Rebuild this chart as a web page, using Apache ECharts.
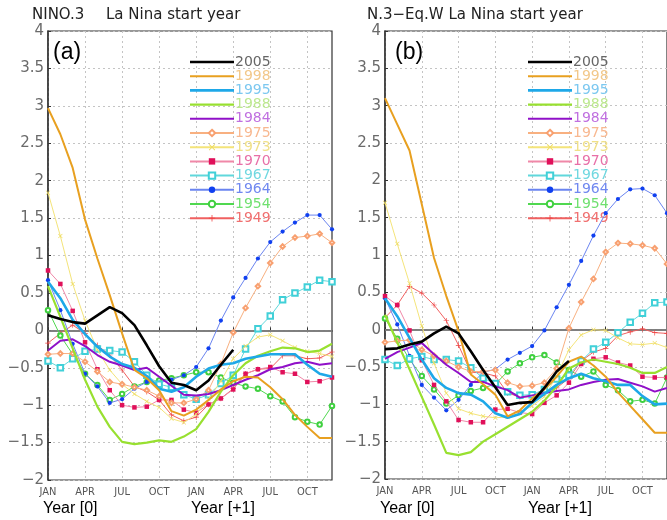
<!DOCTYPE html>
<html><head><meta charset="utf-8">
<script src="https://cdn.jsdelivr.net/npm/echarts@6/dist/echarts.min.js"></script>
<style>html,body{margin:0;padding:0;background:#fff;}#c{width:667px;height:520px;}</style>
</head><body><div id="c"></div>
<script>
const months = ['JAN0','FEB0','MAR0','APR0','MAY0','JUN0','JUL0','AUG0','SEP0','OCT0','NOV0','DEC0',
                'JAN1','FEB1','MAR1','APR1','MAY1','JUN1','JUL1','AUG1','SEP1','OCT1','NOV1','DEC1'];
const yTicks = [-2,-1.5,-1,-0.5,0,0.5,1,1.5,2,2.5,3,3.5,4];
const years = ['2005','1998','1995','1988','1984','1975','1973','1970','1967','1964','1954','1949'];

// Panel (a): NINO.3
const a2005 = [0.20,0.15,0.11,0.09,0.20,0.31,0.23,0.07,-0.20,-0.48,-0.70,-0.73,-0.80,-0.67,-0.46,-0.26];
const a1998 = [2.97,2.62,2.17,1.48,0.96,0.47,-0.04,-0.53,-0.64,-0.80,-1.08,-1.14,-1.06,-0.93,-0.79,-0.68,-0.62,-0.63,-0.76,-0.92,-1.13,-1.29,-1.44,-1.44];
const a1995 = [0.65,0.43,0.14,-0.05,-0.22,-0.35,-0.45,-0.50,-0.61,-0.78,-0.82,-0.76,-0.62,-0.51,-0.46,-0.44,-0.38,-0.35,-0.32,-0.32,-0.32,-0.46,-0.58,-0.62];
const a1988 = [0.59,0.18,-0.24,-0.66,-1.02,-1.29,-1.49,-1.52,-1.50,-1.47,-1.49,-1.42,-1.32,-1.09,-0.82,-0.60,-0.44,-0.34,-0.28,-0.23,-0.24,-0.29,-0.27,-0.18];
const a1984 = [-0.27,-0.14,-0.12,-0.21,-0.33,-0.42,-0.47,-0.53,-0.50,-0.62,-0.74,-0.86,-0.87,-0.85,-0.80,-0.73,-0.66,-0.60,-0.52,-0.49,-0.44,-0.42,-0.46,-0.44];
const a1975 = [-0.32,-0.31,-0.31,-0.42,-0.55,-0.69,-0.72,-0.76,-0.80,-0.88,-0.97,-0.97,-0.92,-0.80,-0.45,-0.03,0.30,0.59,0.90,1.12,1.24,1.26,1.29,1.17];
const a1973 = [1.84,1.26,0.62,0.13,-0.26,-0.53,-0.72,-0.85,-0.95,-1.03,-1.18,-1.23,-1.12,-0.92,-0.68,-0.38,-0.21,-0.09,-0.06,-0.14,-0.23,-0.28,-0.31,-0.35];
const a1970 = [0.80,0.62,0.26,-0.16,-0.52,-0.80,-1.00,-1.03,-1.02,-0.93,-0.93,-1.06,-1.10,-0.99,-0.91,-0.79,-0.58,-0.52,-0.49,-0.56,-0.58,-0.69,-0.68,-0.63];
const a1967 = [-0.41,-0.50,-0.38,-0.28,-0.25,-0.27,-0.29,-0.42,-0.60,-0.72,-0.76,-0.86,-0.92,-0.86,-0.71,-0.60,-0.25,0.02,0.19,0.41,0.50,0.58,0.67,0.65];
const a1964 = [0.67,0.27,-0.18,-0.58,-0.75,-0.97,-0.92,-0.78,-0.69,-0.70,-0.66,-0.60,-0.49,-0.24,0.13,0.44,0.70,0.96,1.18,1.32,1.44,1.54,1.54,1.35];
const a1954 = [0.27,-0.07,-0.32,-0.58,-0.73,-0.93,-0.85,-0.75,-0.69,-0.67,-0.64,-0.60,-0.56,-0.56,-0.63,-0.70,-0.75,-0.78,-0.88,-0.95,-1.16,-1.22,-1.26,-1.01];
const a1949 = [-0.17,-0.04,0.07,-0.04,-0.20,-0.33,-0.53,-0.75,-0.82,-0.93,-1.13,-1.21,-1.16,-0.99,-0.91,-0.78,-0.58,-0.52,-0.51,-0.34,-0.34,-0.38,-0.37,-0.29];

// Panel (b): N.3-Eq.W
const b2005 = [-0.26,-0.25,-0.20,-0.16,-0.05,0.04,-0.05,-0.29,-0.54,-0.77,-1.01,-0.98,-0.97,-0.78,-0.56,-0.42];
const b1998 = [3.10,2.75,2.40,1.68,0.96,0.45,-0.02,-0.60,-0.73,-0.87,-1.16,-1.08,-0.92,-0.80,-0.63,-0.43,-0.36,-0.48,-0.63,-0.84,-1.02,-1.20,-1.38,-1.38];
const b1995 = [0.42,0.18,-0.11,-0.40,-0.65,-0.78,-0.85,-0.87,-0.96,-1.12,-1.18,-1.13,-0.98,-0.86,-0.74,-0.65,-0.59,-0.65,-0.69,-0.74,-0.74,-0.89,-1.00,-0.99];
const b1988 = [0.20,-0.17,-0.53,-0.90,-1.27,-1.65,-1.68,-1.64,-1.50,-1.40,-1.30,-1.20,-1.10,-0.95,-0.76,-0.52,-0.44,-0.40,-0.43,-0.46,-0.51,-0.58,-0.58,-0.50];
const b1984 = [-0.39,-0.30,-0.24,-0.18,-0.33,-0.47,-0.58,-0.70,-0.70,-0.76,-0.81,-0.91,-0.88,-0.85,-0.82,-0.80,-0.74,-0.70,-0.67,-0.66,-0.71,-0.76,-0.83,-0.78];
const b1975 = [-0.17,-0.15,-0.14,-0.27,-0.35,-0.42,-0.50,-0.56,-0.56,-0.54,-0.71,-0.76,-0.75,-0.71,-0.52,0.02,0.37,0.68,1.04,1.16,1.15,1.13,1.09,0.88];
const b1973 = [1.70,1.15,0.62,0.05,-0.45,-0.85,-1.06,-1.12,-1.16,-1.18,-1.17,-1.11,-1.02,-0.90,-0.62,-0.27,-0.07,0.00,-0.01,-0.11,-0.19,-0.20,-0.18,-0.24];
const b1970 = [0.45,0.33,-0.01,-0.41,-0.74,-0.96,-1.21,-1.24,-1.24,-1.07,-1.06,-1.11,-1.13,-0.98,-0.88,-0.71,-0.46,-0.39,-0.37,-0.44,-0.48,-0.63,-0.64,-0.64];
const b1967 = [-0.40,-0.48,-0.39,-0.36,-0.40,-0.40,-0.42,-0.51,-0.65,-0.72,-0.83,-0.88,-0.87,-0.80,-0.66,-0.61,-0.42,-0.26,-0.17,-0.04,0.10,0.22,0.36,0.37];
const b1964 = [0.42,0.07,-0.35,-0.74,-0.91,-1.08,-0.94,-0.74,-0.57,-0.53,-0.40,-0.31,-0.22,-0.01,0.30,0.60,0.92,1.26,1.56,1.75,1.88,1.89,1.80,1.56];
const b1954 = [0.15,-0.12,-0.40,-0.62,-0.80,-0.99,-0.88,-0.82,-0.78,-0.73,-0.56,-0.45,-0.37,-0.34,-0.44,-0.54,-0.63,-0.56,-0.74,-0.81,-0.96,-0.94,-0.99,-0.64];
const b1949 = [0.16,0.33,0.58,0.49,0.33,0.12,-0.21,-0.57,-0.58,-0.62,-0.85,-0.90,-0.90,-0.85,-0.78,-0.65,-0.42,-0.30,-0.25,-0.08,-0.03,0.01,-0.04,-0.05];

const panelA = {'2005':a2005,'1998':a1998,'1995':a1995,'1988':a1988,'1984':a1984,'1975':a1975,'1973':a1973,'1970':a1970,'1967':a1967,'1964':a1964,'1954':a1954,'1949':a1949};
const panelB = {'2005':b2005,'1998':b1998,'1995':b1995,'1988':b1988,'1984':b1984,'1975':b1975,'1973':b1973,'1970':b1970,'1967':b1967,'1964':b1964,'1954':b1954,'1949':b1949};

const X_PATH = 'path://M0,1L1,0L5,4L9,0L10,1L6,5L10,9L9,10L5,6L1,10L0,9L4,5Z';
const PLUS_PATH = 'path://M4.4,0H5.6V4.4H10V5.6H5.6V10H4.4V5.6H0V4.4H4.4Z';
const styles = {
  '2005': {line:'#000000', w:2.6, sym:'none', text:'#666666'},
  '1998': {line:'#e8a020', w:2, sym:'none', text:'#f2c88a'},
  '1995': {line:'#1ea8e8', w:2.6, sym:'none', text:'#7cc8f0'},
  '1988': {line:'#98e030', w:2.2, sym:'none', text:'#bde890'},
  '1984': {line:'#9010c8', w:2, sym:'none', text:'#c070e0'},
  '1975': {line:'#f8b080', w:1, sym:'emptyDiamond', size:4.5, mk:'#f8a070', bw:1, text:'#f8b890'},
  '1973': {line:'#f4e47a', w:1, sym:X_PATH, size:4.5, mk:'#eedc60', bw:0, text:'#f0e088'},
  '1970': {line:'#f088a8', w:1, sym:'rect', size:4.5, mk:'#e0105a', bw:0, text:'#e870a8'},
  '1967': {line:'#60d8dc', w:1, sym:'emptyRect', size:5.5, mk:'#40d0d8', bw:1, text:'#70d8e0'},
  '1964': {line:'#6a84f0', w:1, sym:'circle', size:4.2, mk:'#1040f0', bw:0, text:'#7088f0'},
  '1954': {line:'#50d850', w:1, sym:'emptyCircle', size:4.5, mk:'#40d040', bw:1, text:'#70e070'},
  '1949': {line:'#f06060', w:1, sym:PLUS_PATH, size:5.5, mk:'#f04040', bw:0, text:'#f07070'}
};
const drawOrder = ['1949','1954','1964','1967','1970','1973','1975','1984','1988','1995','1998','2005'];

function makeSeries(panel, idx) {
  const out = [];
  drawOrder.forEach((y, k) => {
    const s = styles[y];
    const plain = s.sym === 'none';
    const ser = {
      name: y, type: 'line', xAxisIndex: idx, yAxisIndex: idx,
      data: panel[y],
      symbol: plain ? 'none' : s.sym, symbolSize: s.size || 4, showSymbol: !plain,
      lineStyle: {color: s.line, width: s.w},
      itemStyle: {color: plain ? s.line : s.mk, borderColor: plain ? s.line : s.mk, borderWidth: plain ? 0 : s.bw},
      z: 2 + k, silent: true
    };
    if (k === 0) {
      ser.markLine = {silent: true, symbol: ['none','none'], label: {show: false},
        lineStyle: {color: '#8a8a8a', type: 'solid', width: 1.5}, data: [{yAxis: 0}], z: 1};
    }
    out.push(ser);
  });
  return out;
}

function yAxis(idx) {
  return {
    type: 'value', gridIndex: idx, min: yTicks[0], max: yTicks[yTicks.length-1], interval: 0.5,
    axisLine: {show: true, lineStyle: {color: '#333', width: 1.5}},
    axisTick: {show: true, inside: true, length: 3, lineStyle: {color: '#333'}},
    splitLine: {show: true, lineStyle: {color: '#c4c4c4', type: [2, 3], width: 1}},
    axisLabel: {color: '#6a6a6a', fontSize: 15, fontFamily: 'DejaVu Sans', margin: 4,
      formatter: v => (v < 0 ? '\u2212' + Math.abs(v) : String(v))}
  };
}
function xAxis(idx) {
  return {
    type: 'category', gridIndex: idx, data: months, boundaryGap: false,
    axisLine: {show: true, lineStyle: {color: '#333', width: 1.5}},
    axisTick: {show: true, inside: true, length: 3, interval: 2, lineStyle: {color: '#333'}},
    splitLine: {show: true, interval: 2, lineStyle: {color: '#c4c4c4', type: [2, 3], width: 1}},
    axisLabel: {interval: 2, color: '#555', fontSize: 11, fontFamily: 'DejaVu Sans Condensed, DejaVu Sans', margin: 7,
      formatter: v => v.slice(0, 3)}
  };
}
function legend(left) {
  return {
    orient: 'vertical', left: left, top: 55, padding: 0, itemGap: 0.2,
    itemWidth: 44, itemHeight: 8,
    textStyle: {fontSize: 14, fontFamily: 'DejaVu Sans', lineHeight: 14, padding: [0, 0, 0, -4]},
    data: years.map(y => {
      const s = styles[y];
      const item = {name: y, textStyle: {color: s.text}};
      if (s.sym === 'none') {
        const h = s.w.toFixed(1);
        item.icon = 'path://M0,0H44V' + h + 'H0Z';
        item.itemStyle = {color: s.line, borderWidth: 0};
      }
      return item;
    }),
    selectedMode: false
  };
}
function txt(x, y, s, size, color) {
  return {type: 'text', left: x, top: y, silent: true,
    style: {text: s, font: size + 'px "DejaVu Sans"', fill: color}};
}
function txtL(x, y, s, size, color) {
  return {type: 'text', left: x, top: y, silent: true,
    style: {text: s, font: size + 'px "Liberation Sans", Arial', fill: color}};
}

const chart = echarts.init(document.getElementById('c'), null, {renderer: 'canvas'});
chart.setOption({
  animation: false,
  backgroundColor: '#fff',
  grid: [
    {left: 48, top: 31, width: 284, height: 449, show: true, borderColor: '#333', borderWidth: 1.2, backgroundColor: 'transparent'},
    {left: 385, top: 31, width: 284, height: 448, show: true, borderColor: '#333', borderWidth: 1.2, backgroundColor: 'transparent'}
  ],
  xAxis: [xAxis(0), xAxis(1)],
  yAxis: [yAxis(0), yAxis(1)],
  legend: [legend(189), legend(527)],
  series: makeSeries(panelA, 0).concat(makeSeries(panelB, 1)),
  graphic: [
    txt(32, 8, 'NINO.3', 15, '#222'),
    txt(106, 8, 'La Nina start year', 15, '#222'),
    txt(367, 8, 'N.3\u2212Eq.W La Nina start year', 15, '#222'),
    txtL(53, 41, '(a)', 23, '#000'),
    txtL(395, 41, '(b)', 23, '#000'),
    txtL(43, 501, 'Year [0]', 16, '#000'),
    txtL(191, 501, 'Year [+1]', 16, '#000'),
    txtL(380, 501, 'Year [0]', 16, '#000'),
    txtL(528, 501, 'Year [+1]', 16, '#000')
  ]
});
</script>
</body></html>
